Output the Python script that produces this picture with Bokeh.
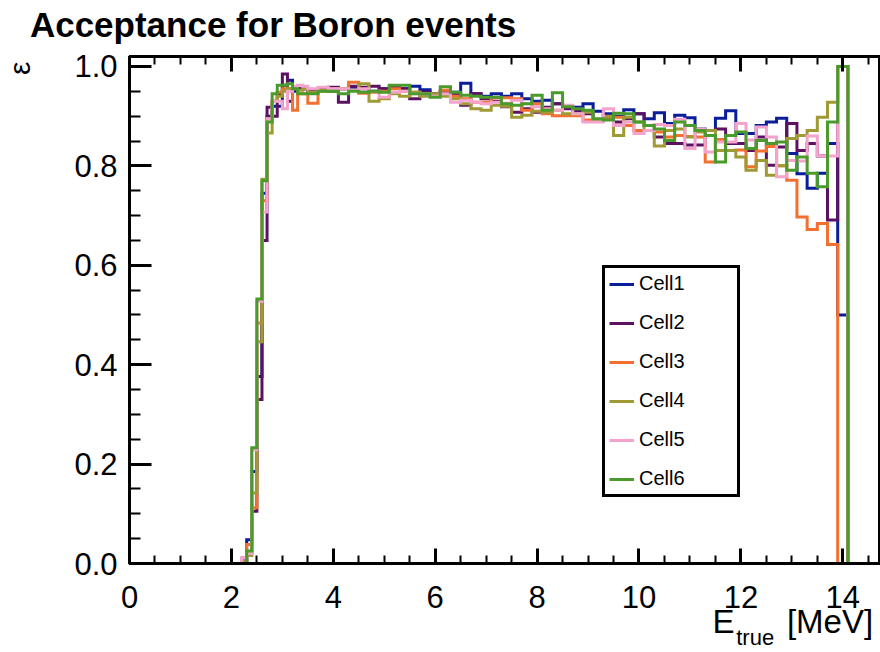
import numpy as np
from bokeh.plotting import figure
from bokeh.models import (Range1d, LinearAxis, SingleIntervalTicker, FixedTicker,
                          NumeralTickFormatter, CustomJSTickFormatter, Legend, LegendItem)
from bokeh.embed import file_html
from bokeh.resources import INLINE

# ---------------- data ----------------
X_MIN, X_MAX = 0.0, 14.74
Y_MIN, Y_MAX = 0.0, 1.02

# bin edges (MeV): 0.1 MeV bins near threshold, 0.2 MeV bins afterwards
FINE_EDGES = [2.2, 2.3, 2.4, 2.5, 2.6, 2.7, 2.8, 2.9, 3.0, 3.1, 3.2, 3.3, 3.4, 3.5]
COARSE_EDGES = [3.7, 3.9, 4.1, 4.3, 4.5, 4.7, 4.9, 5.1, 5.3, 5.5, 5.7, 5.9, 6.1, 6.3,
                6.5, 6.7, 6.9, 7.1, 7.3, 7.5, 7.7, 7.9, 8.1, 8.3, 8.5, 8.7, 8.9, 9.1,
                9.3, 9.5, 9.7, 9.9, 10.1, 10.3, 10.5, 10.7, 10.9, 11.1, 11.3, 11.5,
                11.7, 11.9, 12.1, 12.3, 12.5, 12.7, 12.9, 13.1, 13.3, 13.5, 13.7, 13.9, 14.1]

labels = ["Cell1", "Cell2", "Cell3", "Cell4", "Cell5", "Cell6"]
colors = ["#0a1e9a", "#5b1262", "#f47030", "#a09a35", "#f4a4cc", "#4a9a2c"]

TITLE = "Acceptance for Boron events"
TITLE_POS = [2.817]                 # centre of the title (MeV units)
Y_TITLE = "ε"
X_TITLE_PARTS = ["E", "[MeV]"]      # main-size parts of the x title
X_TITLE_SUB = "true"                # subscript part
X_TITLE_POS = [11.66, 13.75]        # centres of "E" and "[MeV]" (MeV units)
X_TITLE_SUB_POS = [12.28]
Y_TITLE_POS = [0.996]

# acceptance in the 0.1 MeV bins (2.2 ... 3.5)
cell1_fine = [0.005, 0.048, 0.185, 0.376, 0.745, 0.900, 0.920, 0.920, 0.962, 0.972, 0.950, 0.955, 0.955]
cell2_fine = [0.004, 0.020, 0.105, 0.330, 0.650, 0.918, 0.900, 0.945, 0.985, 0.930, 0.955, 0.955, 0.955]
cell3_fine = [0.004, 0.038, 0.112, 0.484, 0.730, 0.895, 0.930, 0.948, 0.955, 0.955, 0.912, 0.945, 0.945]
cell4_fine = [0.004, 0.016, 0.142, 0.446, 0.773, 0.866, 0.930, 0.940, 0.950, 0.955, 0.955, 0.952, 0.955]
cell5_fine = [0.012, 0.020, 0.229, 0.527, 0.707, 0.895, 0.930, 0.930, 0.915, 0.950, 0.960, 0.962, 0.960]
cell6_fine = [0.000, 0.025, 0.233, 0.532, 0.770, 0.888, 0.945, 0.962, 0.962, 0.965, 0.955, 0.945, 0.945]

# acceptance in the 0.2 MeV bins (3.5 ... 14.1)
cell1_coarse = [0.950, 0.955, 0.950, 0.955, 0.958, 0.955, 0.950, 0.955, 0.958, 0.955,
                0.960, 0.953, 0.945, 0.950, 0.948, 0.966, 0.945, 0.940, 0.945, 0.940,
                0.945, 0.935, 0.930, 0.932, 0.925, 0.920, 0.918, 0.925, 0.910, 0.905,
                0.900, 0.913, 0.905, 0.895, 0.907, 0.885, 0.902, 0.897, 0.874, 0.871,
                0.896, 0.911, 0.865, 0.865, 0.881, 0.888, 0.896, 0.825, 0.784, 0.755,
                0.785, 0.845, 0.500]
cell2_coarse = [0.950, 0.955, 0.958, 0.928, 0.960, 0.958, 0.960, 0.955, 0.960, 0.955,
                0.935, 0.948, 0.945, 0.950, 0.945, 0.922, 0.945, 0.935, 0.930, 0.919,
                0.908, 0.915, 0.908, 0.918, 0.925, 0.915, 0.910, 0.905, 0.892, 0.900,
                0.888, 0.895, 0.905, 0.881, 0.858, 0.845, 0.845, 0.842, 0.842, 0.871,
                0.874, 0.845, 0.845, 0.831, 0.858, 0.801, 0.838, 0.885, 0.831, 0.845,
                0.820, 0.691, 1.000]
cell3_coarse = [0.926, 0.950, 0.955, 0.955, 0.968, 0.946, 0.948, 0.950, 0.955, 0.950,
                0.948, 0.945, 0.940, 0.952, 0.940, 0.935, 0.928, 0.928, 0.937, 0.937,
                0.935, 0.912, 0.925, 0.905, 0.901, 0.901, 0.901, 0.892, 0.892, 0.895,
                0.898, 0.881, 0.871, 0.871, 0.868, 0.858, 0.861, 0.859, 0.858, 0.808,
                0.853, 0.831, 0.832, 0.798, 0.830, 0.839, 0.800, 0.771, 0.697, 0.672,
                0.684, 0.642, 0.000]
cell4_coarse = [0.948, 0.952, 0.950, 0.955, 0.952, 0.965, 0.930, 0.935, 0.945, 0.940,
                0.948, 0.940, 0.945, 0.940, 0.935, 0.925, 0.915, 0.912, 0.922, 0.920,
                0.898, 0.902, 0.910, 0.908, 0.912, 0.905, 0.905, 0.908, 0.892, 0.900,
                0.861, 0.898, 0.888, 0.871, 0.840, 0.871, 0.874, 0.858, 0.868, 0.871,
                0.831, 0.831, 0.818, 0.791, 0.811, 0.781, 0.800, 0.855, 0.861, 0.871,
                0.898, 0.928, 1.000]
cell5_coarse = [0.955, 0.958, 0.955, 0.955, 0.952, 0.955, 0.950, 0.938, 0.948, 0.950,
                0.945, 0.945, 0.940, 0.945, 0.928, 0.932, 0.928, 0.925, 0.928, 0.926,
                0.932, 0.925, 0.919, 0.915, 0.912, 0.922, 0.905, 0.888, 0.888, 0.915,
                0.881, 0.888, 0.865, 0.871, 0.883, 0.881, 0.894, 0.835, 0.874, 0.828,
                0.848, 0.848, 0.885, 0.852, 0.878, 0.858, 0.778, 0.811, 0.810, 0.860,
                0.820, 0.820, 1.000]
cell6_coarse = [0.945, 0.950, 0.950, 0.945, 0.950, 0.948, 0.950, 0.948, 0.962, 0.962,
                0.945, 0.945, 0.938, 0.959, 0.948, 0.942, 0.940, 0.938, 0.938, 0.925,
                0.922, 0.925, 0.942, 0.912, 0.947, 0.919, 0.915, 0.912, 0.895, 0.892,
                0.906, 0.905, 0.888, 0.881, 0.874, 0.851, 0.888, 0.881, 0.871, 0.861,
                0.808, 0.861, 0.868, 0.835, 0.851, 0.845, 0.848, 0.791, 0.818, 0.785,
                0.758, 0.888, 1.000]

series = [cell1_fine + cell1_coarse, cell2_fine + cell2_coarse, cell3_fine + cell3_coarse,
          cell4_fine + cell4_coarse, cell5_fine + cell5_coarse, cell6_fine + cell6_coarse]

edges = [X_MIN] + FINE_EDGES + COARSE_EDGES + [X_MAX]

FONT = "Liberation Sans"

# ---------------- figure ----------------
p = figure(width=880, height=652, output_backend="svg", toolbar_location=None,
           x_range=Range1d(X_MIN, X_MAX), y_range=Range1d(Y_MIN, Y_MAX),
           min_border_left=124, min_border_right=0, min_border_top=56, min_border_bottom=88,
           x_axis_type=None, y_axis_type=None)
p.background_fill_color = "white"
p.border_fill_color = "white"
p.outline_line_color = "black"
p.outline_line_width = 3

xt = SingleIntervalTicker(interval=2, num_minor_ticks=4)
yt = SingleIntervalTicker(interval=0.2, num_minor_ticks=4)

def style_axis(ax, tin, mtin):
    ax.axis_line_color = "black"
    ax.axis_line_width = 3
    ax.major_tick_in = tin
    ax.major_tick_out = 0
    ax.minor_tick_in = mtin
    ax.minor_tick_out = 0
    ax.major_tick_line_width = 3
    ax.minor_tick_line_width = 2
    ax.major_tick_line_color = "black"
    ax.minor_tick_line_color = "black"
    ax.major_label_text_font = FONT
    ax.major_label_text_font_size = "31px"
    ax.major_label_text_color = "black"

def text_axis(ax, size, standoff):
    ax.axis_line_color = None
    ax.major_tick_line_color = None
    ax.minor_tick_line_color = None
    ax.major_tick_in = 0
    ax.major_tick_out = 0
    ax.minor_tick_in = 0
    ax.minor_tick_out = 0
    ax.major_label_text_font = FONT
    ax.major_label_text_font_size = size
    ax.major_label_text_color = "black"
    ax.major_label_standoff = standoff

# main axes
xb = LinearAxis(ticker=xt)
style_axis(xb, 15, 8)
xb.major_label_standoff = 22
p.add_layout(xb, "below")

xa = LinearAxis(ticker=xt, formatter=CustomJSTickFormatter(code="return ''"))
style_axis(xa, 15, 8)
xa.major_label_standoff = 0
p.add_layout(xa, "above")

yl = LinearAxis(ticker=yt, formatter=NumeralTickFormatter(format="0.0"))
style_axis(yl, 22, 11)
yl.major_label_standoff = 12
p.add_layout(yl, "left")

# plot title (bold, top-left, ROOT style)
title_axis = LinearAxis(ticker=FixedTicker(ticks=TITLE_POS),
                        formatter=CustomJSTickFormatter(args=dict(t=[TITLE]), code="return t[index]"))
text_axis(title_axis, "35px", 13)
title_axis.major_label_text_font_style = "bold"
title_axis.major_label_text_line_height = 0.8
p.add_layout(title_axis, "above")

# x title: "E" and "[MeV]" then the subscript "true" (ROOT-like, right aligned)
xt_main = LinearAxis(ticker=FixedTicker(ticks=X_TITLE_POS),
                     formatter=CustomJSTickFormatter(args=dict(t=X_TITLE_PARTS), code="return t[index]"))
text_axis(xt_main, "33px", -8)
p.add_layout(xt_main, "below")

xt_sub = LinearAxis(ticker=FixedTicker(ticks=X_TITLE_SUB_POS),
                    formatter=CustomJSTickFormatter(args=dict(t=[X_TITLE_SUB]), code="return t[index]"))
text_axis(xt_sub, "22px", -18)
p.add_layout(xt_sub, "below")

# y title at the top of the axis
yt_axis = LinearAxis(ticker=FixedTicker(ticks=Y_TITLE_POS),
                     formatter=CustomJSTickFormatter(args=dict(t=[Y_TITLE]), code="return t[index]"))
text_axis(yt_axis, "30px", 35)
yt_axis.major_label_orientation = "parallel"
p.add_layout(yt_axis, "left")

p.xgrid.ticker = xt
p.ygrid.ticker = yt
for g in (p.xgrid, p.ygrid):
    g.grid_line_color = "black"
    g.grid_line_width = 1
    g.grid_line_dash = "1 2"
    g.grid_line_alpha = 0.9

items = []
for lab, col, vals in zip(labels, colors, series):
    ys = [0.0] + vals + [0.0, 0.0]
    r = p.step(x=edges, y=ys, mode="after", line_color=col, line_width=3, line_join="miter")
    items.append(LegendItem(label=lab, renderers=[r]))

legend = Legend(items=items, location=(473, 66))
legend.border_line_color = "black"
legend.border_line_width = 3
legend.border_line_alpha = 1
legend.background_fill_color = "white"
legend.background_fill_alpha = 1
legend.label_text_font = FONT
legend.label_text_font_size = "20px"
legend.label_text_color = "black"
legend.glyph_width = 25
legend.glyph_height = 20
legend.label_height = 20
legend.label_width = 94
legend.label_standoff = 5
legend.spacing = 16
legend.padding = 4
legend.margin = 0
p.add_layout(legend, "center")

open("out.html", "w").write(file_html(p, INLINE))
